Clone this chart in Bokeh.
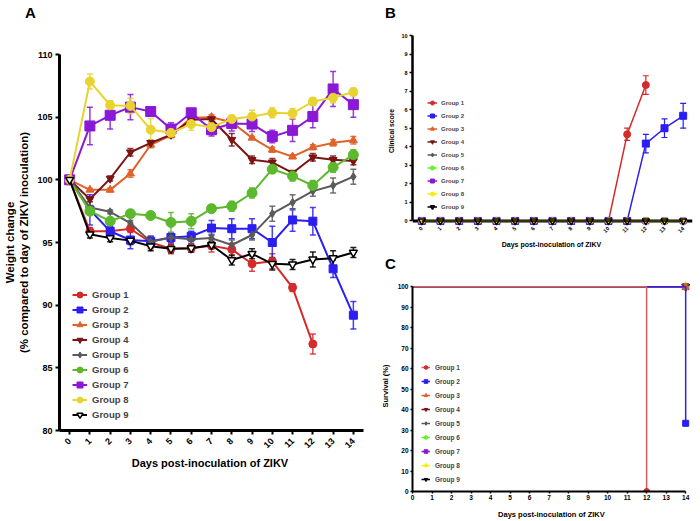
import math
from bokeh.plotting import figure
from bokeh.models import (ColumnDataSource, Whisker, TeeHead, Legend, LegendItem,
                          FixedTicker, Span, Div)
from bokeh.layouts import row, column
from bokeh.embed import file_html
from bokeh.resources import INLINE

FONT = "Liberation Sans"

# ---------------- data ----------------
groups = ["Group 1", "Group 2", "Group 3", "Group 4", "Group 5",
          "Group 6", "Group 7", "Group 8", "Group 9"]
days = list(range(15))
day_ticks = list(range(15))

# Panel A: weight change (% of day 0), mean and SEM
w_g1 = [100, 95.9, 95.9, 96.1, 95.0, 94.5, 94.55, 94.75, 94.45, 93.3, 93.5, 91.4, 86.9]
w_g2 = [100, 97.6, 95.9, 95.2, 95.1, 95.4, 95.5, 96.15, 96.1, 96.1, 95.0, 96.8, 96.7, 92.9, 89.2]
w_g3 = [100, 99.2, 99.2, 100.5, 102.8, 103.55, 104.95, 105.0, 104.6, 103.35, 102.4, 101.85, 102.6, 102.95, 103.15]
w_g4 = [100, 98.45, 100.1, 102.2, 102.95, 103.6, 104.8, 104.85, 103.2, 101.6, 101.4, 100.55, 101.8, 101.6, 101.5]
w_g5 = [100, 97.8, 97.45, 96.55, 95.05, 95.4, 95.25, 95.35, 94.8, 95.6, 97.3, 98.2, 99.1, 99.55, 100.25]
w_g6 = [100, 97.5, 96.7, 97.3, 97.15, 96.6, 96.7, 97.7, 97.9, 98.95, 100.85, 100.3, 99.55, 101.0, 102.0]
w_g7 = [100, 104.3, 105.15, 105.8, 105.45, 104.05, 105.35, 104.0, 104.5, 104.45, 103.45, 103.95, 105.05, 107.25, 106.0]
w_g8 = [100, 107.85, 105.95, 105.9, 104.0, 103.75, 104.45, 104.2, 104.85, 105.05, 105.35, 105.3, 106.25, 106.55, 107.0]
w_g9 = [100, 95.65, 95.35, 95.15, 94.7, 94.5, 94.55, 94.8, 93.6, 94.1, 93.3, 93.25, 93.65, 93.75, 94.2]

e_g1 = [0, 0.3, 0.3, 0.3, 0.5, 0.4, 0.3, 0.5, 0.5, 0.6, 0.6, 0.3, 0.8]
e_g2 = [0, 1.2, 0.4, 0.7, 0.4, 0.4, 0.4, 0.6, 0.8, 0.8, 1.3, 0.9, 1.1, 0.7, 1.1]
e_g3 = [0, 0.1, 0.15, 0.3, 0.25, 0.2, 0.2, 0.2, 0.15, 0.1, 0.2, 0.15, 0.2, 0.25, 0.3]
e_g4 = [0, 0.2, 0.2, 0.3, 0.2, 0.2, 0.2, 0.2, 0.5, 0.3, 0.3, 0.2, 0.3, 0.3, 0.3]
e_g5 = [0, 0.15, 0.15, 0.2, 0.4, 0.3, 0.3, 0.3, 0.4, 0.4, 0.6, 0.6, 0.4, 0.6, 0.6]
e_g6 = [0, 0.2, 0.2, 0.15, 0.2, 0.8, 0.6, 0.2, 0.4, 0.4, 0.3, 0.4, 0.4, 0.4, 0.4]
e_g7 = [0, 1.5, 1.1, 1.0, 0.35, 0.5, 0.25, 0.5, 0.6, 0.6, 0.5, 0.9, 0.9, 1.4, 1.0]
e_g8 = [0, 0.6, 0.35, 0.6, 0.9, 0.3, 0.5, 0.4, 0.3, 0.5, 0.4, 0.4, 0.3, 0.4, 0.3]
e_g9 = [0, 0.3, 0.3, 0.3, 0.35, 0.3, 0.3, 0.3, 0.4, 0.4, 0.5, 0.4, 0.6, 0.6, 0.4]

weights = [w_g1, w_g2, w_g3, w_g4, w_g5, w_g6, w_g7, w_g8, w_g9]
errors = [e_g1, e_g2, e_g3, e_g4, e_g5, e_g6, e_g7, e_g8, e_g9]
weight_ticks = [80, 85, 90, 95, 100, 105, 110]

# Panel B: clinical score
s_g1 = [0] * 11 + [4.67, 7.33]
s_g1_err = [0] * 11 + [0.33, 0.5]
s_g2 = [0] * 12 + [4.17, 5.0, 5.67]
s_g2_err = [0] * 12 + [0.5, 0.5, 0.67]
s_other = [0] * 15
score_ticks = list(range(11))

# Panel C: survival (%)
surv_days_g1 = [0, 12, 12]
surv_g1 = [100, 100, 0]
surv_days_g2 = [0, 14, 14]
surv_g2 = [100, 100, 33.3]
surv_days_other = [0, 14]
surv_other = [100, 100]
surv_ticks = list(range(0, 101, 10))

# ---------------- styles ----------------
colA = ["#d42a2a", "#2a1ef0", "#e0622b", "#7b1414", "#5a5a5a",
        "#5cb82c", "#8a18d6", "#e9d330", "#000000"]
colB = ["#d42a2a", "#2a1ef0", "#e0622b", "#7b1414", "#5a5a5a",
        "#66f22a", "#8a18d6", "#f5f000", "#000000"]
colC_line = ["#cf5f5f", "#2a1ef0", "#e0622b", "#7b1414", "#5a5a5a",
             "#66f22a", "#8a18d6", "#f5f000", "#000000"]
markers = ["circle", "square", "triangle", "inverted_triangle", "diamond",
           "circle", "square", "circle", "inverted_triangle"]
sizesA = [8, 8, 8, 8, 8, 10, 10, 9, 8]


def style_axes(p, lw, tick_len, tick_w, font_size):
    for ax in (p.xaxis[0], p.yaxis[0]):
        ax.axis_line_width = lw
        ax.axis_line_color = "black"
        ax.major_tick_line_width = tick_w
        ax.major_tick_out = tick_len
        ax.major_tick_in = 0
        ax.minor_tick_line_color = None
        ax.major_label_text_font = FONT
        ax.major_label_text_font_style = "bold"
        ax.major_label_text_font_size = font_size
        ax.major_label_text_color = "black"
        ax.axis_label_text_font = FONT
        ax.axis_label_text_font_style = "bold"
        ax.axis_label_text_color = "black"
    p.xgrid.visible = False
    p.ygrid.visible = False
    p.outline_line_color = None


def letter_div(text, width, left, top):
    html = ('<div style="margin-left:%dpx; padding-top:%dpx; font-family:\'Liberation Sans\', Arial, sans-serif; '
            'font-size:15px; font-weight:bold; line-height:15px; color:black;">%s</div>' % (left, top, text))
    return Div(text=html, width=width, height=22, margin=0)


# ---------------- Panel A ----------------
pA = figure(width=364, height=499, x_range=(-0.5, 14.5), y_range=(80, 110),
            output_backend="svg", toolbar_location=None,
            min_border_left=59, min_border_right=1, min_border_top=32, min_border_bottom=91)
style_axes(pA, 3, 4, 2, "9px")
pA.xaxis.ticker = FixedTicker(ticks=day_ticks)
pA.yaxis.ticker = FixedTicker(ticks=weight_ticks)
pA.xaxis.major_label_orientation = math.pi / 4
pA.xaxis.major_label_standoff = 5
pA.yaxis.major_label_standoff = 3
pA.xaxis.axis_label = "Days post-inoculation of  ZIKV"
pA.yaxis.axis_label = "Weight change\n(% compared to day of ZIKV inoculation)"
pA.xaxis.axis_label_text_font_size = "11px"
pA.yaxis.axis_label_text_font_size = "11.5px"
pA.xaxis.axis_label_standoff = 3
pA.yaxis.axis_label_standoff = 4

itemsA = []
for i, g in enumerate(groups):
    w = weights[i]
    e = errors[i]
    d = days[:len(w)]
    src = ColumnDataSource(dict(x=d[1:], upper=[a + b for a, b in zip(w[1:], e[1:])],
                                lower=[a - b for a, b in zip(w[1:], e[1:])]))
    c = colA[i]
    pA.add_layout(Whisker(source=src, base="x", upper="upper", lower="lower",
                          line_color=c, line_width=1.5, line_alpha=0.85,
                          upper_head=TeeHead(size=6, line_color=c, line_width=1.5, line_alpha=0.85),
                          lower_head=TeeHead(size=6, line_color=c, line_width=1.5, line_alpha=0.85)))
    ln = pA.line(d, w, line_color=c, line_width=2)
    fill = "white" if i == 8 else c
    sc = pA.scatter(d, w, marker=markers[i], size=sizesA[i], fill_color=fill,
                    line_color=c, line_width=1.5 if i == 8 else 1)
    itemsA.append(LegendItem(label=g, renderers=[ln, sc]))

legA = Legend(items=itemsA, location=(13, 8), padding=0, margin=0, spacing=0,
              glyph_width=15, glyph_height=15, label_height=15, label_standoff=5,
              border_line_color=None, background_fill_alpha=0,
              label_text_font=FONT, label_text_font_style="bold",
              label_text_font_size="9.5px")
pA.add_layout(legA)

# ---------------- Panel B ----------------
pB = figure(width=336, height=230, x_range=(-0.5, 14.5), y_range=(-0.3, 10),
            output_backend="svg", toolbar_location=None,
            min_border_left=48, min_border_right=2, min_border_top=13, min_border_bottom=26)
style_axes(pB, 2.5, 3, 1.5, "5.5px")
pB.xaxis.ticker = FixedTicker(ticks=day_ticks)
pB.yaxis.ticker = FixedTicker(ticks=score_ticks)
pB.yaxis.bounds = (0, 10)
pB.xaxis.axis_line_color = None
pB.xaxis.major_tick_out = 0
pB.xaxis.major_label_orientation = math.pi / 4
pB.xaxis.major_label_standoff = 1
pB.yaxis.major_label_standoff = 2
pB.xaxis.axis_label = "Days post-inoculation of  ZIKV"
pB.yaxis.axis_label = "Clinical score"
pB.xaxis.axis_label_text_font_size = "7px"
pB.yaxis.axis_label_text_font_size = "6.8px"
pB.xaxis.axis_label_standoff = 3
pB.yaxis.axis_label_standoff = 3
pB.add_layout(Span(location=0, dimension="width", line_color="black", line_width=3,
                   level="underlay"))

scores = [s_g1, s_g2] + [s_other] * 7
score_err = [s_g1_err, s_g2_err] + [None] * 7
itemsB = []
for i, g in enumerate(groups):
    s = scores[i]
    d = days[:len(s)]
    c = colB[i]
    ln = pB.line(d, s, line_color=c, line_width=1.5)
    if score_err[i] is not None:
        se = score_err[i]
        idx = [k for k in range(len(s)) if se[k] > 0]
        src = ColumnDataSource(dict(x=[d[k] for k in idx],
                                    upper=[s[k] + se[k] for k in idx],
                                    lower=[s[k] - se[k] for k in idx]))
        pB.add_layout(Whisker(source=src, base="x", upper="upper", lower="lower",
                              line_color=c, line_width=1.2,
                              upper_head=TeeHead(size=6, line_color=c, line_width=1.2),
                              lower_head=TeeHead(size=6, line_color=c, line_width=1.2)))
    if i == 8:
        sc = pB.scatter(d, s, marker="inverted_triangle", size=7, fill_alpha=0,
                        line_color="black", line_width=1.5)
    else:
        sc = pB.scatter(d, s, marker=markers[i], size=7 if i < 2 else 6,
                        fill_color=c, line_color=c)
    itemsB.append(LegendItem(label=g, renderers=[ln, sc]))

legB = Legend(items=itemsB, location=(15, 13), padding=0, margin=0, spacing=0,
              glyph_width=10, glyph_height=13, label_height=13, label_standoff=4,
              border_line_color=None, background_fill_alpha=0,
              label_text_font=FONT, label_text_font_style="bold",
              label_text_font_size="6px")
pB.add_layout(legB)

# ---------------- Panel C ----------------
pC = figure(width=336, height=247, x_range=(0, 14.35), y_range=(0, 103),
            output_backend="svg", toolbar_location=None,
            min_border_left=48, min_border_right=8, min_border_top=6, min_border_bottom=28)
style_axes(pC, 2, 2, 1.5, "6.5px")
pC.xaxis.ticker = FixedTicker(ticks=day_ticks)
pC.yaxis.ticker = FixedTicker(ticks=surv_ticks)
pC.xaxis.bounds = (0, 14)
pC.yaxis.bounds = (0, 100)
pC.xaxis.major_label_standoff = 1
pC.yaxis.major_label_standoff = 2
pC.xaxis.axis_label = "Days post-inoculation of  ZIKV"
pC.yaxis.axis_label = "Survival (%)"
pC.xaxis.axis_label_text_font_size = "7.5px"
pC.yaxis.axis_label_text_font_size = "7.5px"
pC.xaxis.axis_label_standoff = 7
pC.yaxis.axis_label_standoff = 5

surv_x = [surv_days_g1, surv_days_g2] + [surv_days_other] * 7
surv_y = [surv_g1, surv_g2] + [surv_other] * 7
lines_C = {}
scat_C = {}
for i in reversed(range(9)):
    c = colB[i]
    lines_C[i] = pC.line(surv_x[i], surv_y[i], line_color=colC_line[i], line_width=1.5)
    xe = [surv_x[i][-1]]
    ye = [surv_y[i][-1]]
    if i == 8:
        scat_C[i] = pC.scatter(xe, ye, marker="inverted_triangle", size=8,
                               fill_color="black", line_color="black")
    elif i == 7:
        scat_C[i] = pC.scatter(xe, ye, marker="triangle", size=9,
                               fill_color=c, line_color=c)
    else:
        scat_C[i] = pC.scatter(xe, ye, marker=markers[i], size=6,
                               fill_color=c, line_color=c)
itemsC = [LegendItem(label=g, renderers=[lines_C[i], scat_C[i]]) for i, g in enumerate(groups)]
legC = Legend(items=itemsC, location=(9, 5), padding=0, margin=0, spacing=0,
              glyph_width=9, glyph_height=14, label_height=14, label_standoff=5,
              border_line_color=None, background_fill_alpha=0,
              label_text_font=FONT, label_text_font_style="bold",
              label_text_font_size="6.5px")
pC.add_layout(legC)

divA = letter_div("A", 364, 25, 5)
divB = letter_div("B", 336, 21, 5)
divC = letter_div("C", 336, 21, 4)

layout = row(column(divA, pA), column(divB, pB, divC, pC))
open("out.html", "w").write(file_html(layout, INLINE))
